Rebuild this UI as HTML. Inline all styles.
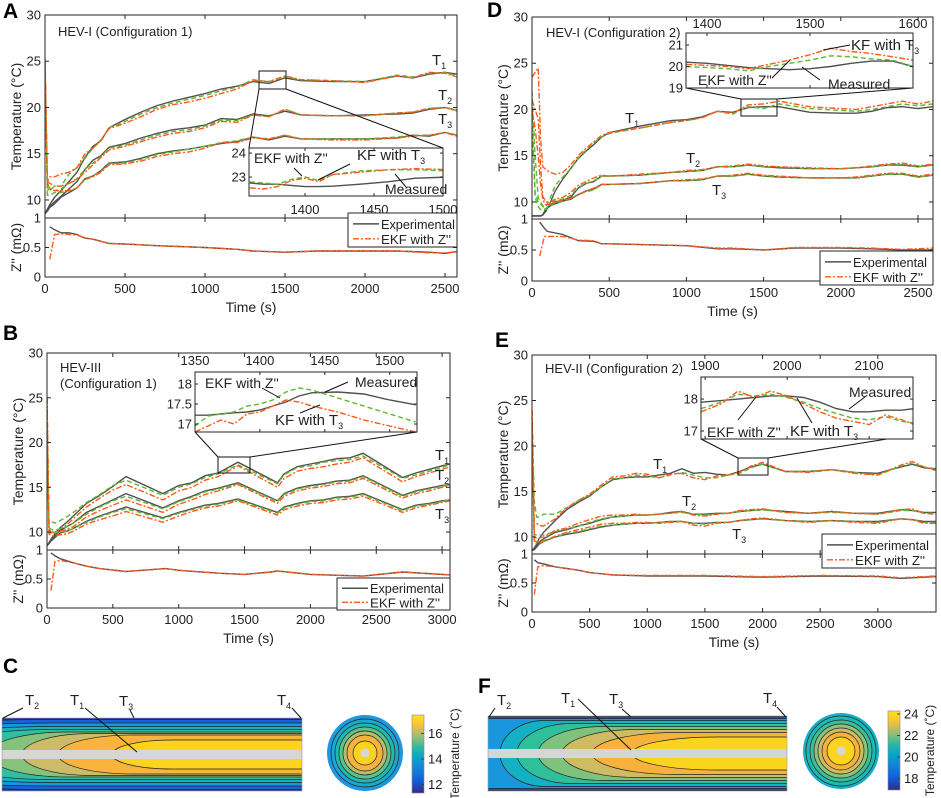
<!DOCTYPE html>
<html><head><meta charset="utf-8">
<style>
html,body{margin:0;padding:0;background:#fff;}
svg{display:block;font-family:"Liberation Sans",Arial,sans-serif;}
</style></head>
<body>
<svg id="fig" width="941" height="798" viewBox="0 0 941 798">
<defs>
<linearGradient id="parula" x1="0" y1="1" x2="0" y2="0">
<stop offset="0" stop-color="#352a87"/><stop offset="0.15" stop-color="#0f5cdd"/><stop offset="0.3" stop-color="#1481d6"/><stop offset="0.45" stop-color="#06a4ca"/><stop offset="0.58" stop-color="#2eb7a4"/><stop offset="0.7" stop-color="#87bf77"/><stop offset="0.8" stop-color="#d1bb59"/><stop offset="0.9" stop-color="#fec832"/><stop offset="1" stop-color="#f9e514"/>
</linearGradient>
</defs>
</svg>
<script>
// ---------- Panel A data ----------
const aTime=[0,15,30,60,100,150,200,250,300,350,400,500,600,700,800,900,1000,1100,1200,1300,1400,1500,1600,1800,2000,2200,2300,2400,2500,2575];
const aT1m=[8.5,9,9.5,10.3,11,12,13,14.6,15.8,16.4,17.8,18.7,19.5,20.2,20.7,21.1,21.5,22,22.3,22.8,22.6,23.2,22.9,22.8,22.8,23.4,23.2,23.6,23.8,23.6];
const aT1e=[23,12,11,11.5,11.5,12.8,13.5,14.5,15.6,16.4,17.8,18.5,19.3,20,20.5,20.9,21.3,21.8,22.2,23,22.8,23.3,23,22.9,22.8,23.5,23.3,23.7,23.8,23.4];
const aT1k=[25.3,12,12.5,12.5,12.8,13,13.5,15,15.6,16.5,17.7,18.3,19,19.8,20.3,20.6,21,21.5,22,22.9,22.8,23.4,23,22.9,22.7,23.4,23.2,23.8,23.7,23.3];
const aT2m=[8.5,9,9.3,9.8,10.4,11.2,12,13.3,14.3,14.8,15.7,16.1,16.7,17.2,17.6,17.8,18.1,18.8,18.7,19.3,19.1,19.6,19.2,19.1,19.2,19.3,19.4,19.8,20,19.7];
const aT2e=[24,11,11.3,11,11.2,11.8,12.3,13.3,14,14.7,15.6,15.9,16.5,17,17.4,17.6,18,18.6,18.6,19.2,19,19.8,19.2,19.1,19.1,19.4,19.5,19.9,20,19.7];
const aT2k=[25,12,11.8,11.5,11.5,11.8,12.2,13,13.8,14.6,15.4,15.8,16.3,16.8,17.2,17.4,17.8,18.5,18.4,19.2,19,19.8,19.2,19.1,19.1,19.4,19.5,19.9,20,19.6];
const aT3m=[8.5,8.8,9.2,9.6,10.3,10.8,11.3,12.3,12.6,13.2,14,14.1,14.5,15,15.3,15.5,15.8,16.1,16.3,16.8,16.5,16.9,16.6,16.6,16.6,16.7,17,16.9,17.3,17];
const aT3e=[23,10.5,10.5,10.8,10.8,11,11.3,12.2,12.6,13.1,13.9,14,14.4,14.9,15.2,15.5,15.8,16.2,16.4,16.8,16.6,17,16.6,16.6,16.6,16.8,17,17,17.3,17];
const aT3k=[25,11.5,11.2,11,11,11,11.3,12.2,12.5,13,13.8,13.9,14.2,14.7,15,15.2,15.6,16.2,16.2,16.7,16.6,17,16.6,16.5,16.5,16.7,16.9,17,17.3,16.9];
const aZTime=[30,60,100,150,200,250,300,400,500,700,1000,1200,1300,1500,1700,2000,2200,2400,2500,2575];
const aZm=[0.85,0.8,0.75,0.75,0.72,0.66,0.64,0.57,0.56,0.53,0.5,0.47,0.44,0.42,0.44,0.44,0.44,0.42,0.4,0.43];
const aZe=[0.3,0.72,0.73,0.72,0.71,0.66,0.64,0.57,0.56,0.53,0.5,0.47,0.44,0.42,0.44,0.44,0.44,0.41,0.41,0.43];
const aInTime=[1360,1370,1380,1390,1400,1410,1420,1440,1460,1480,1505];
const aInM=[22.75,22.7,22.7,22.65,22.6,22.6,22.62,22.7,22.8,22.95,23];
const aInE=[22.8,22.75,22.7,22.9,23,22.85,23.1,23.25,23.3,23.3,23.25];
const aInK=[22.55,22.5,22.6,22.85,22.95,22.8,23.1,23.2,23.3,23.35,23.3];
// ---------- Panel B data ----------
const bTime=[0,15,30,60,100,150,200,300,400,500,600,880,1000,1100,1200,1300,1450,1750,1800,1900,2000,2100,2200,2300,2400,2700,2800,2900,3000,3060];
const bT1m=[8.5,8.8,9.2,9.8,10.5,11.1,11.8,13.2,14.1,15.1,16.2,14.3,15.2,15.5,16.3,16.6,17.8,15.5,16.5,17.3,17.6,17.9,18.2,18.3,18.8,16.1,16.6,17,17.4,17.6];
const bT1e=[24,11,11.2,11,11.3,11.7,12.2,13.3,14.2,15.2,15.8,14.1,15,15.4,16.1,16.5,17.5,15.4,16.4,17.2,17.4,17.8,18,18.1,18.5,16,16.4,16.8,17.2,17.6];
const bT1k=[25,10,9.9,10,10.3,10.8,11.5,12.8,13.8,14.7,15.3,13.6,14.6,15,15.8,16.2,17.4,15,16,16.8,17.1,17.3,17.6,17.8,18.3,15.6,16.2,16.6,17,17.3];
const bT2m=[8.5,8.8,9.1,9.6,10.2,10.6,11,12.2,12.9,13.6,14.3,12.7,13.5,14,14.6,14.9,15.5,13.5,14.3,14.9,15.2,15.4,15.7,15.8,16.3,14.1,14.6,14.9,15.2,15.3];
const bT2e=[23,10.5,10.3,10.2,10.4,10.6,11,12,12.8,13.5,14,12.6,13.4,13.9,14.5,14.8,15.4,13.4,14.2,14.8,15.1,15.3,15.6,15.7,16.2,14,14.5,14.8,15.1,15.3];
const bT2k=[25,10.3,10,10,10.1,10.3,10.6,11.7,12.4,13,13.6,12.2,13.1,13.6,14.2,14.6,15.3,13.2,14,14.6,14.9,15.1,15.4,15.5,16,13.8,14.3,14.6,15,15.2];
const bT3m=[8.5,8.7,9,9.4,9.9,10.1,10.4,11.2,11.8,12.3,12.8,11.6,12.2,12.6,13,13.2,13.7,12.2,12.8,13.2,13.5,13.6,13.9,14,14.3,12.5,13,13.2,13.5,13.6];
const bT3e=[22,10,9.9,9.9,10,10.1,10.4,11.1,11.7,12.2,12.6,11.5,12.1,12.5,12.9,13.1,13.6,12.1,12.7,13.1,13.4,13.5,13.8,13.9,14.2,12.4,12.9,13.1,13.4,13.6];
const bT3k=[25,9.8,9.6,9.6,9.7,9.8,10.1,10.9,11.4,11.8,12.3,11.1,11.8,12.3,12.7,12.9,13.5,11.9,12.5,12.9,13.2,13.3,13.6,13.7,14,12.2,12.7,13,13.3,13.5];
const bZTime=[30,60,100,200,300,400,600,900,1000,1300,1500,1700,1750,2000,2400,2700,3000,3060];
const bZm=[0.95,0.9,0.85,0.78,0.72,0.68,0.63,0.68,0.65,0.6,0.58,0.62,0.64,0.58,0.55,0.62,0.58,0.57];
const bZe=[0.3,0.8,0.82,0.78,0.72,0.68,0.63,0.68,0.65,0.6,0.58,0.62,0.64,0.58,0.55,0.62,0.58,0.57];
const bInTime=[1350,1360,1370,1380,1390,1400,1410,1420,1430,1440,1460,1480,1500,1520];
const bInM=[17.22,17.22,17.25,17.28,17.3,17.35,17.45,17.55,17.7,17.78,17.8,17.75,17.6,17.48];
const bInE=[16.95,17.2,17.25,17.3,17.45,17.5,17.6,17.8,17.9,17.85,17.65,17.45,17.25,17.05];
const bInK=[16.8,16.95,17.1,17.0,17.25,17.3,17.45,17.6,17.55,17.45,17.3,17.1,16.95,16.8];
// ---------- Panel D data ----------
const dTime=[0,20,40,55,70,90,120,150,200,250,300,350,400,450,500,700,900,1000,1100,1200,1300,1400,1500,1600,1800,2000,2100,2200,2300,2400,2500,2597];
const dT1m=[8.5,8.5,8.5,8.5,8.6,9,10,11.2,12.5,13.6,14.7,15.5,16.2,17,17.5,18.2,18.8,18.9,19.2,19.8,19.7,20.2,20.3,20.3,19.7,19.6,19.6,19.8,20.2,20.3,20.1,20.3];
const dT1e=[22,15,10.5,10,9.6,9.5,10.5,11.8,12.7,13.6,14.8,15.6,16.4,17,17.4,18,18.6,18.8,19.1,19.8,19.5,20.3,20.1,20.6,20.1,19.9,19.8,20,20.3,20.6,20.4,20.6];
const dT1k=[23.5,24,24.5,17,13.8,13.5,13.2,13,13.2,14,15,15.8,16.5,17.2,17.5,18,18.6,18.8,19.1,19.8,19.6,20.5,20.6,20.9,20.3,20.1,20,20.3,20.6,20.9,20.6,20.9];
const dT2m=[8.5,8.5,8.5,8.5,8.6,9.3,9.7,10,10.2,10.5,11.5,12,12.2,12.8,12.8,12.9,13.2,13.3,13.4,13.8,13.8,14,13.8,13.7,13.6,13.6,13.7,13.8,14,14,13.8,14];
const dT2e=[20,11,10,9.8,9.5,9.3,9.8,10.2,10.3,10.7,11.6,12,12.3,12.8,12.8,12.9,13.2,13.3,13.4,13.8,13.8,14,13.8,13.8,13.6,13.6,13.7,13.8,14,14.1,13.8,14];
const dT2k=[21,20,19,14,10.6,10,10,10.3,10.5,11,11.8,12.2,12.6,12.9,12.8,13,13.2,13.4,13.5,13.8,13.9,14.1,13.9,13.8,13.7,13.6,13.7,13.9,14.1,14.2,13.9,14.1];
const dT3m=[8.5,8.5,8.5,8.5,8.6,9.2,9.6,9.8,10.1,10.3,10.8,11.2,11.4,11.9,11.9,12,12.3,12.3,12.4,12.8,12.8,13,12.8,12.7,12.6,12.6,12.6,12.8,13,13,12.7,12.9];
const dT3e=[19,10.5,9.5,9.2,9.3,9.2,9.6,9.9,10.1,10.4,10.8,11.1,11.3,11.9,11.9,12,12.3,12.3,12.4,12.8,12.8,13,12.8,12.7,12.6,12.6,12.6,12.8,13,13,12.7,12.9];
const dT3k=[20,18,15,12,10.2,9.7,9.8,10,10.2,10.4,10.8,11.2,11.5,11.9,11.9,12,12.3,12.4,12.5,12.8,12.9,13.1,12.9,12.8,12.6,12.6,12.7,12.9,13.1,13.1,12.8,13];
const dZTime=[50,80,100,200,300,400,450,500,1000,1200,1300,1500,1700,2000,2200,2400,2597];
const dZm=[0.95,0.85,0.8,0.75,0.65,0.64,0.6,0.6,0.57,0.52,0.52,0.5,0.53,0.53,0.52,0.5,0.5];
const dZe=[0.4,0.72,0.72,0.72,0.66,0.65,0.6,0.6,0.57,0.53,0.53,0.5,0.54,0.54,0.53,0.51,0.53];
const dInTime=[1380,1400,1420,1440,1460,1480,1500,1520,1540,1560,1580,1600];
const dInM=[20.2,20.15,20.05,19.95,19.9,19.85,19.9,20,20.15,20.25,20.25,20.0];
const dInE=[20.0,19.95,19.9,19.8,20.0,20.15,20.3,20.5,20.45,20.35,20.3,20.0];
const dInK=[20.1,20.05,20,19.9,20.1,20.3,20.55,20.85,20.7,20.6,20.45,20.3];
// ---------- Panel E data ----------
const eTime=[0,20,40,60,100,200,300,400,500,600,700,800,900,1000,1100,1200,1300,1400,1500,1600,1700,1800,1900,2000,2200,2400,2600,2800,3000,3200,3300,3400,3505];
const eT1m=[8.5,8.8,9.2,9.8,10.5,11.8,13,13.8,14.5,15.5,16.3,16.5,16.6,16.6,16.8,17,17.5,17,17.1,16.9,16.8,17.2,17.7,18,17.2,17.2,17.4,17.1,17,17.7,18,17.6,17.5];
const eT1e=[23,14,12.2,12.2,12.5,12.5,13.2,14,14.6,15.5,16.4,16.5,16.8,16.7,16.5,16.8,17.1,16.8,16.5,16.5,16.8,17,17.6,18,17.2,17.2,17.4,17.1,16.8,17.8,18.1,17.7,17.4];
const eT1k=[24,11.5,11.5,11.3,11.2,12,13.2,14,14.7,15.7,16.6,16.7,17,16.9,16.5,16.9,17,16.5,16.3,16.7,16.8,17.1,17.8,18.2,17.2,17.1,17.4,17,16.8,17.9,18.3,17.7,17.3];
const eT2m=[8.5,8.7,9,9.4,9.8,10.5,10.8,11.2,11.5,11.9,12.2,12.3,12.4,12.4,12.5,12.7,12.8,12.5,12.5,12.6,12.6,12.8,12.9,13,12.8,12.6,12.8,12.6,12.6,13,12.9,12.7,12.7];
const eT2e=[22,10.3,10.2,10.2,10.2,10.6,10.9,11.2,11.6,12,12.2,12.3,12.4,12.4,12.5,12.6,12.7,12.5,12.4,12.5,12.6,12.8,12.9,13,12.7,12.6,12.7,12.6,12.5,12.9,12.9,12.6,12.6];
const eT2k=[24,10,9.9,9.9,10,10.7,11,11.5,11.9,12.3,12.4,12.4,12.5,12.4,12.5,12.6,12.8,12.4,12.3,12.5,12.6,12.9,13,13.1,12.7,12.6,12.8,12.6,12.5,13,13.1,12.6,12.5];
const eT3m=[8.5,8.6,8.9,9.2,9.5,10,10.3,10.5,10.8,11.1,11.3,11.4,11.5,11.5,11.6,11.7,11.7,11.5,11.5,11.6,11.6,11.8,11.9,12,11.8,11.7,11.8,11.7,11.7,12,11.9,11.7,11.7];
const eT3e=[21,9.6,9.5,9.5,9.6,10,10.4,10.6,10.9,11.2,11.3,11.4,11.5,11.5,11.6,11.7,11.7,11.5,11.4,11.6,11.6,11.8,11.9,12,11.8,11.7,11.8,11.7,11.6,12,11.9,11.6,11.6];
const eT3k=[22,9.4,9.3,9.3,9.5,10.1,10.5,10.8,11.1,11.4,11.5,11.5,11.6,11.6,11.5,11.6,11.7,11.3,11.2,11.5,11.6,11.8,12,12.1,11.8,11.6,11.8,11.6,11.5,12,11.9,11.5,11.5];
const eZTime=[20,50,100,200,300,400,500,700,1000,1500,2000,2500,3000,3200,3505];
const eZm=[0.9,0.85,0.83,0.78,0.75,0.72,0.68,0.64,0.62,0.62,0.6,0.62,0.61,0.58,0.61];
const eZe=[0.3,0.78,0.8,0.78,0.75,0.72,0.68,0.64,0.63,0.63,0.61,0.63,0.62,0.59,0.62];
const eInTime=[1895,1920,1940,1960,1980,2000,2020,2040,2060,2080,2100,2120,2140,2155];
const eInM=[17.9,17.95,18,18.05,18.1,18.1,18.05,17.9,17.7,17.6,17.6,17.65,17.65,17.7];
const eInE=[17.7,17.9,18.15,18.1,18.15,18.05,17.9,17.7,17.55,17.4,17.35,17.45,17.3,17.25];
const eInK=[17.6,17.85,18.25,18.05,18.25,18.1,17.85,17.6,17.4,17.3,17.2,17.5,17.35,17.2];
// ---------- Tick labels ----------
const tempTicks=[10,15,20,25,30];
const zTicks=[0,0.5,1];
const cbTicksC=[12,14,16];
const cbTicksF=[18,20,22,24];

const NS='http://www.w3.org/2000/svg';
const svg=document.getElementById('fig');
function mk(tag,attrs,parent){const e=document.createElementNS(NS,tag);for(const k in attrs)e.setAttribute(k,attrs[k]);(parent||svg).appendChild(e);return e;}
function txt(x,y,s,attrs,parent){const t=mk('text',Object.assign({x:x,y:y,fill:'#222','font-size':13},attrs||{}),parent);t.textContent=s;return t;}
const STY={m:{stroke:'#505050','stroke-width':1.4,fill:'none'},e:{stroke:'#5cb82e','stroke-width':1.4,fill:'none','stroke-dasharray':'5 3'},k:{stroke:'#ff5a1a','stroke-width':1.4,fill:'none','stroke-dasharray':'6 2 2 2'}};
let clipN=0;
function clip(x,y,w,h){const id='c'+(clipN++);const cp=mk('clipPath',{id:id},svg.querySelector('defs'));mk('rect',{x:x,y:y,width:w,height:h},cp);return 'url(#'+id+')';}
function series(g,t,v,fx,fy,kind,name){
  const d=v.map((val,i)=>(i?'L':'M')+fx(t[i]).toFixed(1)+','+fy(val).toFixed(1)).join(' ');
  const p=mk('path',Object.assign({d:d},STY[kind]),g);
  
  
}
function sub(x,y,main,s,g,name){
  const t=mk('text',{x:x,y:y,'font-size':15,fill:'#222'},g);
  
  
  t.appendChild(document.createTextNode(main));
  const ts=mk('tspan',{'font-size':9,dy:4},t);ts.textContent=s;
  return t;
}
function lineSeg(g,x1,y1,x2,y2,name){
  const l=mk('line',{x1:x1,y1:y1,x2:x2,y2:y2,stroke:'#111','stroke-width':1},g);
  
  
}

function panel(p){
  const g=mk('g',{});
  
  
  const fx=v=>p.L+v/p.xmax*(p.R-p.L);
  const fy=v=>p.B-(v-p.tmin)/(30-p.tmin)*(p.B-p.T);
  const fz=v=>p.ZB-v*(p.ZB-p.B);
  const lt=txt(p.letter[1],p.letter[2],p.letter[0],{'font-size':21,'font-weight':'bold',fill:'#000'},g);
  
  
  const gu=mk('g',{'clip-path':clip(p.L,p.T,p.R-p.L,p.B-p.T)},g);
  p.temps.forEach((s,i)=>{
    series(gu,s.t,s.m,fx,fy,'m','t'+(i+1)+'-measured-line');
    series(gu,s.t,s.e,fx,fy,'e','t'+(i+1)+'-ekf-line');
    series(gu,s.t,s.k,fx,fy,'k','t'+(i+1)+'-kf-line');
  });
  const gl=mk('g',{'clip-path':clip(p.L,p.B,p.R-p.L,p.ZB-p.B)},g);
  series(gl,p.z.t,p.z.m,fx,fz,'m','z-experimental-line');
  series(gl,p.z.t,p.z.e,fx,fz,'k','z-ekf-line');
  const b1=mk('rect',{x:p.L,y:p.T,width:p.R-p.L,height:p.B-p.T,fill:'none',stroke:'#262626','stroke-width':1},g);
  
  
  const b2=mk('rect',{x:p.L,y:p.B,width:p.R-p.L,height:p.ZB-p.B,fill:'none',stroke:'#262626','stroke-width':1},g);
  
  
  p.xticks.forEach(v=>{
    const x=fx(v);
    [[p.T,4],[p.B,-4],[p.B,4],[p.ZB,-4]].forEach(a=>mk('line',{x1:x,y1:a[0],x2:x,y2:a[0]+a[1],stroke:'#262626'},g));
    const tl=txt(x,p.ZB+16,String(v),{'text-anchor':'middle'},g);
    
    
  });
  tempTicks.forEach(v=>{
    const y=fy(v);
    mk('line',{x1:p.L,y1:y,x2:p.L+4,y2:y,stroke:'#262626'},g);
    mk('line',{x1:p.R,y1:y,x2:p.R-4,y2:y,stroke:'#262626'},g);
    const tl=txt(p.L-4,y+4.5,String(v),{'text-anchor':'end'},g);
    
    
  });
  zTicks.forEach(v=>{
    const y=fz(v);
    mk('line',{x1:p.L,y1:y,x2:p.L+4,y2:y,stroke:'#262626'},g);
    mk('line',{x1:p.R,y1:y,x2:p.R-4,y2:y,stroke:'#262626'},g);
    const tl=txt(p.L-4,y+4.5,String(v),{'text-anchor':'end'},g);
    
    
  });
  const yt=txt(0,0,'Temperature (°C)',{'text-anchor':'middle','font-size':14,transform:'translate('+(p.L-24)+','+((p.T+p.B)/2)+') rotate(-90)'},g);
  
  
  const zt=txt(0,0,"Z'' (mΩ)",{'text-anchor':'middle','font-size':14,transform:'translate('+(p.L-24)+','+((p.B+p.ZB)/2)+') rotate(-90)'},g);
  
  
  const xt=txt((p.L+p.R)/2,p.ZB+35,'Time (s)',{'text-anchor':'middle','font-size':14},g);
  
  
  p.title.forEach(tt=>{
    const t=txt(tt[1],tt[2],tt[0],{'font-size':13},g);
    
    
  });
  p.tlabels.forEach((l,i)=>sub(l[0],l[1],'T',String(i+1),g,'t'+(i+1)+'-label'));
  const zr=mk('rect',{x:p.zoom[0],y:p.zoom[1],width:p.zoom[2]-p.zoom[0],height:p.zoom[3]-p.zoom[1],fill:'none',stroke:'#111','stroke-width':1},g);
  
  
  p.conn.forEach(c=>lineSeg(g,c[0],c[1],c[2],c[3],'zoom-connector-line'));
  const I=p.inset;
  const gi=mk('g',{},g);
  
  
  mk('rect',{x:I.x0,y:I.y0,width:I.x1-I.x0,height:I.y1-I.y0,fill:'#fff'},gi);
  const ix=v=>I.x0+(v-I.xd[0])/(I.xd[1]-I.xd[0])*(I.x1-I.x0);
  const iy=v=>I.y1-(v-I.yd[0])/(I.yd[1]-I.yd[0])*(I.y1-I.y0);
  const gic=mk('g',{'clip-path':clip(I.x0,I.y0,I.x1-I.x0,I.y1-I.y0)},gi);
  series(gic,I.t,I.m,ix,iy,'m','inset-measured-line');
  series(gic,I.t,I.e,ix,iy,'e','inset-ekf-line');
  series(gic,I.t,I.k,ix,iy,'k','inset-kf-line');
  mk('rect',{x:I.x0,y:I.y0,width:I.x1-I.x0,height:I.y1-I.y0,fill:'none',stroke:'#262626','stroke-width':1},gi);
  I.xt.forEach(v=>{
    const x=ix(v);
    mk('line',{x1:x,y1:I.y0,x2:x,y2:I.y0+3,stroke:'#262626'},gi);
    mk('line',{x1:x,y1:I.y1,x2:x,y2:I.y1-3,stroke:'#262626'},gi);
    const tl=txt(x,I.xly,String(v),{'text-anchor':'middle'},gi);
    
    
  });
  I.yt.forEach(v=>{
    const y=iy(v);
    mk('line',{x1:I.x0,y1:y,x2:I.x0+3,y2:y,stroke:'#262626'},gi);
    mk('line',{x1:I.x1,y1:y,x2:I.x1-3,y2:y,stroke:'#262626'},gi);
    const tl=txt(I.x0-3,y+4.5,String(v),{'text-anchor':'end'},gi);
    
    
  });
  I.ann.forEach(a=>{
    let t;
    if(a[0]==='KF with T'){t=sub(a[1],a[2],'KF with T','3',gi,'kf-annotation');}
    else{t=txt(a[1],a[2],a[0],{'font-size':14},gi);}
    lineSeg(gi,a[3],a[4],a[5],a[6],'annotation-pointer');
  });
  const Lg=p.legend;
  const gL=mk('g',{},g);
  
  
  mk('rect',{x:Lg[0],y:Lg[1],width:Lg[2]-Lg[0],height:Lg[3]-Lg[1],fill:'#fff',stroke:'#262626','stroke-width':1},gL);
  const r1=Lg[1]+(Lg[3]-Lg[1])*0.32, r2=Lg[1]+(Lg[3]-Lg[1])*0.76;
  mk('line',Object.assign({x1:Lg[0]+5,y1:r1,x2:Lg[0]+31,y2:r1},STY.m),gL);
  mk('line',Object.assign({x1:Lg[0]+5,y1:r2,x2:Lg[0]+31,y2:r2},STY.k),gL);
  const le1=txt(Lg[0]+33,r1+5,'Experimental',{'font-size':13,textLength:74,lengthAdjust:'spacingAndGlyphs'},gL);
  
  
  const le2=txt(Lg[0]+33,r2+5,"EKF with Z''",{'font-size':13,textLength:70,lengthAdjust:'spacingAndGlyphs'},gL);
  
  
}

panel({name:'panel-a',letter:['A',3,18],L:45,R:457,T:15,B:218,ZB:277,tmin:8.05,xmax:2575,xticks:[0,500,1000,1500,2000,2500],
 temps:[{t:aTime,m:aT1m,e:aT1e,k:aT1k},{t:aTime,m:aT2m,e:aT2e,k:aT2k},{t:aTime,m:aT3m,e:aT3e,k:aT3k}],
 z:{t:aZTime,m:aZm,e:aZe},title:[['HEV-I (Configuration 1)',58,36]],tlabels:[[432,65],[438,100],[438,124]],
 zoom:[259,71,286,89],conn:[[259,89,249,148],[286,89,443,148]],
 inset:{x0:249,x1:443,y0:148,y1:196,xd:[1359.4,1500],yd:[22.21,24.21],t:aInTime,m:aInM,e:aInE,k:aInK,xt:[1400,1450,1500],yt:[23,24],xly:214,
  ann:[["EKF with Z''",254,163,294,168,302,176],['KF with T',357,160,350,164,318,180],['Measured',385,194,406,187,395,174]]},
 legend:[348,213,457,247]});
panel({name:'panel-b',letter:['B',3,340],L:47,R:450,T:353,B:550,ZB:608,tmin:8.0,xmax:3060,xticks:[0,500,1000,1500,2000,2500,3000],
 temps:[{t:bTime,m:bT1m,e:bT1e,k:bT1k},{t:bTime,m:bT2m,e:bT2e,k:bT2k},{t:bTime,m:bT3m,e:bT3e,k:bT3k}],
 z:{t:bZTime,m:bZm,e:bZe},title:[['HEV-III',60,372],['(Configuration 1)',60,388]],tlabels:[[435,460],[435,480],[435,519]],
 zoom:[218,457,250,473],conn:[[218,457,195,432],[250,457,417,432]],
 inset:{x0:195,x1:417,y0:372,y1:432,xd:[1350,1521],yd:[16.8,18.3],t:bInTime,m:bInM,e:bInE,k:bInK,xt:[1350,1400,1450,1500],yt:[17,17.5,18],xly:365,
  ann:[["EKF with Z''",205,388,262,388,280,398],['Measured',355,387,348,382,325,392],['KF with T',275,425,300,413,320,405]]},
 legend:[337,578,450,610]});
panel({name:'panel-d',letter:['D',487,17],L:532,R:933,T:17,B:219,ZB:281,tmin:8.16,xmax:2597,xticks:[0,500,1000,1500,2000,2500],
 temps:[{t:dTime,m:dT1m,e:dT1e,k:dT1k},{t:dTime,m:dT2m,e:dT2e,k:dT2k},{t:dTime,m:dT3m,e:dT3e,k:dT3k}],
 z:{t:dZTime,m:dZm,e:dZe},title:[['HEV-I (Configuration 2)',546,37]],tlabels:[[625,123],[686,163],[712,195]],
 zoom:[741,99,777,116],conn:[[741,99,686,88],[777,99,913,88]],
 inset:{x0:686,x1:913,y0:33,y1:88,xd:[1379.6,1600],yd:[19,21.56],t:dInTime,m:dInM,e:dInE,k:dInK,xt:[1400,1500,1600],yt:[19,20,21],xly:28,
  ann:[['KF with T',851,50,850,45,823,50],["EKF with Z''",698,85,772,78,790,60],['Measured',828,89,820,80,802,67]]},
 legend:[820,251,933,285]});
panel({name:'panel-e',letter:['E',495,347],L:532,R:936,T:355,B:554,ZB:612,tmin:8.13,xmax:3505,xticks:[0,500,1000,1500,2000,2500,3000],
 temps:[{t:eTime,m:eT1m,e:eT1e,k:eT1k},{t:eTime,m:eT2m,e:eT2e,k:eT2k},{t:eTime,m:eT3m,e:eT3e,k:eT3k}],
 z:{t:eZTime,m:eZm,e:eZe},title:[['HEV-II (Configuration 2)',545,373]],tlabels:[[653,469],[682,506],[732,539]],
 zoom:[738,458,768,475],conn:[[738,458,701,439],[768,458,887,439]],
 inset:{x0:701,x1:913,y0:377,y1:439,xd:[1895,2153.5],yd:[16.75,18.69],t:eInTime,m:eInM,e:eInE,k:eInK,xt:[1900,2000,2100],yt:[17,18],xly:370,
  ann:[['Measured',849,397,865,397,849,409],["EKF with Z''",707,437,738,420,756,397],['KF with T',790,436,812,423,797,398]]},
 legend:[822,534,936,568]});

function contourPanel(c){
  const g=mk('g',{});
  
  
  const lt=txt(c.letter[1],c.letter[2],c.letter[0],{'font-size':21,'font-weight':'bold',fill:'#000'},g);
  
  
  const gc=mk('g',{'clip-path':clip(c.x0,c.y0,c.x1-c.x0,c.y1-c.y0)},g);
  
  
  mk('rect',{x:c.x0,y:c.y0,width:c.x1-c.x0,height:c.y1-c.y0,fill:c.base},gc);
  const cy=(c.y0+c.y1)/2;
  c.levels.forEach(l=>{
    const R=c.x1+5,h=l[0],x0=l[1],a=l[2];
    mk('path',{d:'M'+R+','+(cy-h)+' L'+(x0+a)+','+(cy-h)+' A'+a+','+h+' 0 0 0 '+(x0+a)+','+(cy+h)+' L'+R+','+(cy+h)+' Z',fill:l[3],stroke:'#222','stroke-width':0.7},gc);
  });
  mk('rect',{x:c.x0,y:c.bar[0],width:c.x1-c.x0,height:c.bar[1]-c.bar[0],fill:'#d6d6d6'},gc);
  mk('rect',{x:c.x0,y:c.y0,width:c.x1-c.x0,height:c.y1-c.y0,fill:'none',stroke:'#999','stroke-width':0.6},g);
  const gr=mk('g',{},g);
  
  
  c.rings.forEach((r,i)=>mk('circle',{cx:c.cc[0],cy:c.cc[1],r:r[0],fill:r[1],stroke:i?'#222':'none','stroke-width':0.7},gr));
  mk('circle',{cx:c.cc[0],cy:c.cc[1],r:4.5,fill:'#d6d6d6'},gr);
  const cb=mk('rect',{x:c.cb[0],y:c.cb[1],width:c.cb[2]-c.cb[0],height:c.cb[3]-c.cb[1],fill:'url(#parula)',stroke:'#888','stroke-width':0.6},g);
  
  
  c.cbt.forEach((v,i)=>{
    const y=c.cbfy(v);
    mk('line',{x1:c.cb[2],y1:y,x2:c.cb[2]-3,y2:y,stroke:'#444'},g);
    const tl=txt(c.cb[2]+4,y+4.5,String(v),{},g);
    
    
  });
  const cl=txt(0,0,'Temperature (˚C)',{'text-anchor':'middle','font-size':12,transform:'translate('+c.cbl+','+((c.cb[1]+c.cb[3])/2)+') rotate(-90)'},g);
  
  
  c.tl.forEach(l=>{sub(l[1],l[2],'T',l[0],g,'sensor-t'+l[0]+'-label');lineSeg(g,l[3],l[4],l[5],l[6],'sensor-pointer');});
}
contourPanel({name:'panel-c',letter:['C',3,673],x0:2,x1:302,y0:718,y1:791,bar:[750,759],base:'#283b9e',
 levels:[[35,-200,250,'#1565d8'],[31.5,-150,200,'#1499dc'],[28,-100,150,'#15b3c0'],[25,-60,110,'#2fbf9e'],[22.5,-12,80,'#86c27c'],[21,22,70,'#cdbc66'],[19.5,58,75,'#f8b43c'],[14.5,112,60,'#fbd41e']],
 cc:[365,753],rings:[[38,'#1f97e0'],[34,'#1aa8cf'],[30,'#20b7b0'],[26,'#5cc28c'],[22,'#b8bd6a'],[18,'#f6b13e'],[12,'#fbd21e']],
 cb:[412,715,424,793],cbt:cbTicksC,cbfy:v=>759-(v-14)*12.75,cbl:459,
 tl:[['2',25,705,23,708,3,718],['1',70,705,85,708,137,752],['3',119,706,130,710,134,718],['4',277,705,292,708,301,718]]});
contourPanel({name:'panel-f',letter:['F',478,693],x0:488,x1:787,y0:716,y1:791,bar:[749,758],base:'#2c3a96',
 levels:[[36.5,-150,170,'#1d72d8'],[35,-40,110,'#1a97dc'],[33,500,45,'#14b0c4'],[30,517,55,'#2fbf9a'],[27,538,65,'#7ec27e'],[24,562,75,'#cfbb62'],[21,592,85,'#f7b23c'],[16.5,632,85,'#fbd41e']],
 cc:[841,751],rings:[[38,'#14b0c8'],[35,'#1fb8b0'],[31,'#3cbf98'],[27,'#8cc27a'],[23,'#d0bb62'],[19,'#f7b23c'],[14,'#fbd41e']],
 cb:[888,711,900,790],cbt:cbTicksF,cbfy:v=>757-(v-20)*10.75,cbl:934,
 tl:[['2',497,705,495,708,489,717],['1',561,703,578,699,631,750],['3',609,704,622,709,631,717],['4',763,703,777,707,786,717]]});
</script>
</body></html>
